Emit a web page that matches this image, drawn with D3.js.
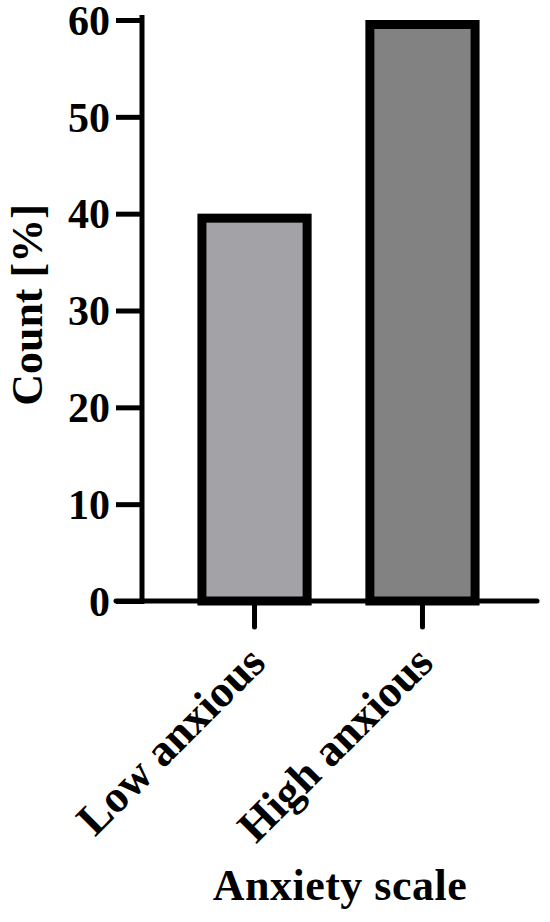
<!DOCTYPE html>
<html>
<head>
<meta charset="utf-8">
<script src="https://cdn.jsdelivr.net/npm/d3@7"></script>
<style>
  body { margin: 0; background: #fff; }
  text { font-family: "Liberation Serif", "Times New Roman", serif; font-weight: bold; fill: #000; }
</style>
</head>
<body>
<script>
// Data
var categories = ["Low anxious", "High anxious"];
var values = [40, 60];
var barColors = ["#a3a3a7", "#828282"];
var yTicks = [0, 10, 20, 30, 40, 50, 60];

// Parameters
var width = 550, height = 922;
var axisWidth = 5;
var barStroke = 9;

var svg = d3.select("body").append("svg")
    .attr("width", width)
    .attr("height", height);

// set the ranges
var y = d3.scaleLinear()
    .domain([0, 60])
    .range([601, 20]);

var x = d3.scaleBand()
    .domain(categories)
    .range([142, 535])
    .paddingInner(0.32)
    .paddingOuter(0.33);

// bars (border drawn inside the bar area)
svg.selectAll("rect.bar")
    .data(values)
  .enter().append("rect")
    .attr("class", "bar")
    .attr("x", function(d, i) { return x(categories[i]) + barStroke / 2; })
    .attr("y", function(d) { return y(d) + barStroke / 2; })
    .attr("width", x.bandwidth() - barStroke)
    .attr("height", function(d) { return y(0) - y(d) - barStroke / 2; })
    .attr("fill", function(d, i) { return barColors[i]; })
    .attr("stroke", "#000")
    .attr("stroke-width", barStroke);

// y axis
var yAxis = svg.append("g")
    .attr("transform", "translate(142,0)")
    .call(d3.axisLeft(y).tickValues(yTicks).tickSize(26).tickSizeOuter(0).tickPadding(6));
yAxis.select(".domain").remove();
yAxis.selectAll(".tick line")
    .attr("stroke", "#000")
    .attr("stroke-width", axisWidth);
yAxis.selectAll(".tick text")
    .attr("font-size", 42)
    .attr("font-family", null)
    .attr("dy", "0.34em");
svg.append("line")
    .attr("x1", 142).attr("x2", 142)
    .attr("y1", y(60) - 5).attr("y2", y(0) + 3)
    .attr("stroke", "#000")
    .attr("stroke-width", axisWidth);

// x axis
var xAxis = svg.append("g")
    .attr("transform", "translate(0," + y(0) + ")")
    .call(d3.axisBottom(x).tickSize(26).tickSizeOuter(0));
xAxis.select(".domain").remove();
xAxis.selectAll(".tick line")
    .attr("stroke", "#000")
    .attr("stroke-width", axisWidth)
    .attr("stroke-linecap", "round");
xAxis.selectAll(".tick text")
    .attr("font-size", 45)
    .attr("font-family", null)
    .attr("text-anchor", "end")
    .attr("y", 0)
    .attr("dy", 0)
    .attr("transform", "translate(13,64) rotate(-45)");
svg.append("line")
    .attr("x1", 116).attr("x2", 537)
    .attr("y1", y(0)).attr("y2", y(0))
    .attr("stroke", "#000")
    .attr("stroke-width", axisWidth)
    .attr("stroke-linecap", "round");

// axis titles
svg.append("text")
    .attr("transform", "translate(42,305) rotate(-90)")
    .attr("text-anchor", "middle")
    .attr("font-size", 44)
    .text("Count [%]");

svg.append("text")
    .attr("x", 340)
    .attr("y", 900)
    .attr("text-anchor", "middle")
    .attr("font-size", 44)
    .attr("letter-spacing", 0.5)
    .text("Anxiety scale");
</script>
</body>
</html>
